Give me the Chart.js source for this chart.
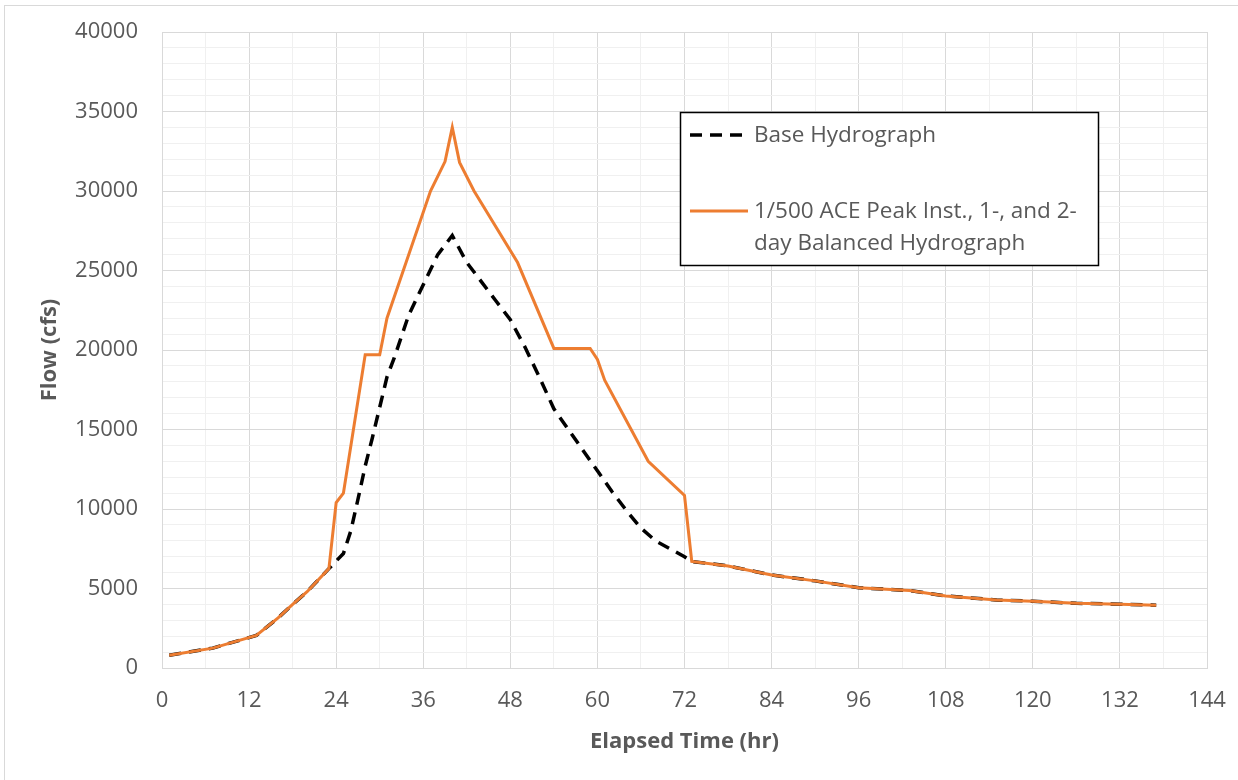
<!DOCTYPE html>
<html>
<head>
<meta charset="utf-8">
<title>Hydrograph</title>
<script src="https://cdn.jsdelivr.net/npm/chart.js@4.4.1/dist/chart.umd.min.js"></script>
<style>
  html, body { margin: 0; padding: 0; background: #fff; }
  #wrap { width: 1238px; height: 780px; position: relative; }
</style>
</head>
<body>
<div id="wrap"><canvas id="hydroChart"></canvas></div>
<script>
// Base hydrograph (hours, cfs)
const baseTime = [1, 7, 13, 16, 18, 20, 23, 25, 26, 27, 28, 29, 30, 31, 32, 34, 36, 38, 40,
  42, 44, 46, 48, 50, 52, 54, 56, 58, 60, 62, 64, 66, 68, 70, 72, 73,
  78, 84, 90, 96, 103, 108, 115, 120, 126, 132, 137];
const baseFlow = [800, 1250, 2050, 3150, 4000, 4800, 6250, 7200, 8600, 10600, 12700, 14500, 16400, 18300, 19500, 22200, 24100, 26000, 27200,
  25500, 24300, 23100, 21900, 20200, 18300, 16300, 15000, 13700, 12400, 11100, 9900, 8800, 8000, 7500, 7000, 6700,
  6420, 5850, 5480, 5050, 4870, 4530, 4280, 4200, 4070, 4010, 3950];

// 1/500 ACE balanced hydrograph (hours, cfs)
const balTime = [1, 7, 13, 16, 18, 20, 23, 24, 25, 28, 30, 31, 37, 39, 40, 41, 43, 49, 54, 59, 60, 61, 67, 72, 73,
  78, 84, 90, 96, 103, 108, 115, 120, 126, 132, 137];
const balFlow = [800, 1250, 2050, 3150, 4000, 4800, 6250, 10400, 11000, 19700, 19700, 22000, 30000, 31850, 34000, 31800, 30000, 25500, 20100, 20100, 19400, 18100, 13000, 10850, 6700,
  6420, 5850, 5480, 5050, 4870, 4530, 4280, 4200, 4070, 4010, 3950];

const seriesNames = ['Base Hydrograph', '1/500 ACE Peak Inst., 1-, and 2-day Balanced Hydrograph'];
const legendLines = [['Base Hydrograph'], ['1/500 ACE Peak Inst., 1-, and 2-', 'day Balanced Hydrograph']];

const xMax = 144, xMajor = 12, xMinor = 6;
const yMax = 40000, yMajor = 5000, yMinor = 1000;

const ORANGE = '#ED7D31';
const TEXT = '#595959';
const FONT = "'Open Sans', 'Liberation Sans', sans-serif";

function toPoints(xs, ys) {
  return xs.map((x, i) => ({ x: x, y: ys[i] }));
}

// white background plus the thin outer frame
const frame = {
  id: 'frame',
  beforeDraw(chart) {
    const c = chart.ctx;
    c.save();
    c.fillStyle = '#fff';
    c.fillRect(0, 0, chart.width, chart.height);
    c.strokeStyle = '#d9d9d9';
    c.lineWidth = 1;
    c.strokeRect(4.5, 5.5, chart.width + 20, chart.height + 20);
    c.restore();
  }
};

// boxed legend sitting inside the plot
const boxLegend = {
  id: 'boxLegend',
  afterDatasetsDraw(chart) {
    const c = chart.ctx;
    const bx = 680.5, by = 112.5, bw = 418, bh = 153;
    c.save();
    c.fillStyle = '#fff';
    c.fillRect(bx, by, bw, bh);
    c.strokeStyle = '#000';
    c.lineWidth = 1.5;
    c.strokeRect(bx, by, bw, bh);

    const rows = [135, 211];
    chart.data.datasets.forEach((ds, i) => {
      c.beginPath();
      c.strokeStyle = ds.borderColor;
      c.lineWidth = ds.borderWidth;
      c.setLineDash(ds.borderDash || []);
      c.moveTo(690, rows[i]);
      c.lineTo(748, rows[i]);
      c.stroke();
      c.setLineDash([]);
      c.fillStyle = TEXT;
      c.font = '22.5px ' + FONT;
      c.textBaseline = 'middle';
      legendLines[i].forEach((t, k) => c.fillText(t, 754, rows[i] + 1 + k * 32));
    });
    c.restore();
  }
};

const ctx = document.getElementById('hydroChart').getContext('2d');
const hydroChart = new Chart(ctx, {
  type: 'line',
  data: {
    datasets: [{
      label: seriesNames[0],
      data: toPoints(baseTime, baseFlow),
      borderColor: '#000',
      borderWidth: 3.5,
      borderDash: [12, 8],
      pointRadius: 0,
      tension: 0,
      order: 2
    }, {
      label: seriesNames[1],
      data: toPoints(balTime, balFlow),
      borderColor: ORANGE,
      borderWidth: 3,
      pointRadius: 0,
      tension: 0,
      order: 1
    }]
  },
  options: {
    responsive: true,
    maintainAspectRatio: false,
    animation: false,
    layout: { padding: { top: 32, right: 31, left: 0, bottom: 0 } },
    plugins: {
      legend: { display: false },
      tooltip: { enabled: false }
    },
    scales: {
      x: {
        type: 'linear',
        min: 0,
        max: xMax,
        border: { color: '#d9d9d9' },
        grid: {
          drawTicks: false,
          color: c => (c.tick && c.tick.value % xMajor === 0) ? '#d9d9d9' : '#f0f0f0'
        },
        ticks: {
          stepSize: xMinor,
          autoSkip: false,
          maxRotation: 0,
          padding: 20,
          color: TEXT,
          font: { family: FONT, size: 22 },
          callback: v => (v % xMajor === 0 ? String(v) : '')
        },
        title: {
          display: true,
          text: 'Elapsed Time (hr)',
          color: TEXT,
          font: { family: FONT, size: 22, weight: 'bold' },
          padding: { top: 0, bottom: 25 }
        },
        afterFit(scale) {
          scale.height = 780 - 668;
          scale.paddingLeft = 0;
          scale.paddingRight = 0;
        }
      },
      y: {
        min: 0,
        max: yMax,
        border: { color: '#d9d9d9' },
        grid: {
          drawTicks: false,
          color: c => (c.tick && c.tick.value % yMajor === 0) ? '#d9d9d9' : '#f0f0f0'
        },
        ticks: {
          stepSize: yMinor,
          autoSkip: false,
          padding: 24,
          color: TEXT,
          font: { family: FONT, size: 22 },
          callback: v => (v % yMajor === 0 ? String(v) : '')
        },
        title: {
          display: true,
          text: 'Flow (cfs)',
          color: TEXT,
          font: { family: FONT, size: 22, weight: 'bold' },
          padding: { top: 37, bottom: 0 }
        },
        afterFit(scale) {
          scale.width = 162;
          scale.paddingTop = 0;
          scale.paddingBottom = 0;
        }
      }
    }
  },
  plugins: [frame, boxLegend]
});
</script>
</body>
</html>
